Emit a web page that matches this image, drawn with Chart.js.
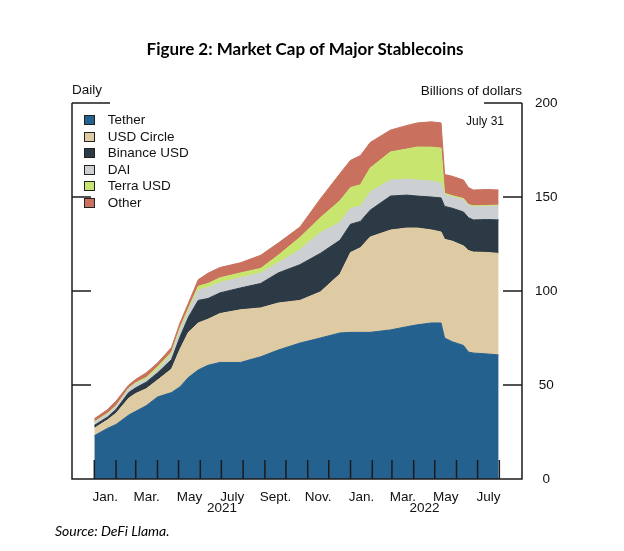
<!DOCTYPE html>
<html>
<head>
<meta charset="utf-8">
<title>Market Cap of Major Stablecoins</title>
<script src="https://cdn.jsdelivr.net/npm/chart.js@4.4.1/dist/chart.umd.min.js"></script>
<style>
  html, body { margin: 0; padding: 0; background: #fff; }
  #wrap { position: relative; width: 624px; height: 551px; overflow: hidden;
          font-family: "Liberation Sans", Arial, sans-serif; color: #111; }
  #chart { position: absolute; left: 0; top: 0; }
  .txt { position: absolute; white-space: nowrap; line-height: 1; }
  #title { left: 0; width: 610px; top: 40px; text-align: center;
           font-family: Lato, "Open Sans", sans-serif; font-weight: bold; font-size: 17px; color: #000; }
  #daily { left: 72px; top: 83px; font-size: 13.5px; }
  #units { right: 102px; top: 84px; font-size: 13.5px; }
  #date  { left: 466px; top: 115px; font-size: 12px; }
  #source { left: 55px; top: 524px; font-family: Lato, "Open Sans", sans-serif;
            font-style: italic; font-size: 14px; color: #000; }
  #legend { position: absolute; left: 84px; top: 112px; margin: 0; padding: 0; list-style: none; }
  #legend li { height: 16.5px; font-size: 13.5px; line-height: 16.5px; white-space: nowrap; }
  #legend span { display: inline-block; width: 9px; height: 8px; border: 1px solid #222;
                 margin-right: 12.7px; vertical-align: -1px; }
</style>
</head>
<body>
<div id="wrap">
  <canvas id="chart" width="624" height="551"></canvas>
  <div class="txt" id="title">Figure 2: Market Cap of Major Stablecoins</div>
  <div class="txt" id="daily">Daily</div>
  <div class="txt" id="units">Billions of dollars</div>
  <div class="txt" id="date">July 31</div>
  <ul id="legend"></ul>
  <div class="txt" id="source">Source: DeFi Llama.</div>
</div>
<script>
// days since Jan. 1, 2021
const days = [0, 19, 31, 49, 59, 74, 90, 110, 122, 134,
  148, 162, 179, 208, 237, 262, 293, 322, 350, 365,
  379, 393, 422, 445, 460, 480, 494, 499, 510, 526,
  533, 540, 560, 576];

// billions of dollars
const tether = [23, 27, 29, 34, 36, 39, 43.6, 46, 49, 54,
  58, 60.5, 62, 62, 65, 68.6, 72.3, 75, 77.7, 78,
  78, 78, 79.3, 81, 82, 83, 83, 75, 73, 71,
  67.5, 67, 66.5, 66];
const usdCircle = [4, 4.5, 6, 9, 9.5, 9, 9, 12.5, 20, 24,
  25, 24.5, 26, 28, 26, 25, 22.7, 24.5, 31.3, 42.5,
  45, 50.7, 53.1, 52.5, 51.5, 49.5, 48.4, 52.5, 53.5, 53,
  54, 53.7, 54, 54];
const binanceUsd = [1.5, 1.5, 2, 3, 3, 3.5, 3.8, 5, 6.5, 8,
  12, 11, 11, 11.6, 13, 16, 19, 20.5, 18, 15,
  14, 14.3, 18.1, 17.5, 17, 17.5, 18.1, 17.5, 17.5, 18,
  17.5, 17.1, 17.5, 17.8];
const dai = [1.5, 1.5, 1.5, 1.9, 2, 1.5, 1.6, 2.8, 3.5, 3.5,
  5.5, 5.8, 5.5, 5.4, 5.6, 5.4, 8, 11, 9.5, 8.5,
  8, 9.7, 8.5, 8.5, 8.5, 8.5, 7.9, 6, 6, 6.5,
  6.5, 6.9, 7, 7.4];
const terraUsd = [0.4, 0.5, 0.5, 0.5, 0.7, 1, 1.6, 1.2, 1.5, 1.2,
  2, 2.2, 2.5, 2.6, 2.4, 4, 6.5, 8, 11.5, 11,
  11.5, 12.7, 15, 16, 17.6, 18, 18.6, 1, 0.7, 0.7,
  0.5, 0.6, 0.5, 0.5];
const other = [1.6, 2, 2.5, 1.6, 1.8, 2.5, 2.1, 2.5, 2.5, 2.8,
  3.5, 5.5, 5.5, 5.4, 7, 6.5, 5.5, 10, 14.5, 14.5,
  15.5, 13.6, 11.6, 12.5, 12.8, 13.5, 13.4, 10, 10.3, 9.8,
  9, 8.4, 8.5, 8];

const seriesNames = ['Tether', 'USD Circle', 'Binance USD', 'DAI', 'Terra USD', 'Other'];
const seriesValues = [tether, usdCircle, binanceUsd, dai, terraUsd, other];
const seriesColors = ['#25618f', '#dfcba3', '#2c3a46', '#cdd0d2', '#c8e570', '#c9705f'];

// axis labels
const monthLabels = ['Jan.', 'Mar.', 'May', 'July', 'Sept.', 'Nov.', 'Jan.', 'Mar.', 'May', 'July'];
const monthLabelDays = [15.5, 74.5, 135.5, 196.5, 258, 319, 380.5, 439.5, 500.5, 561.5];
const yearLabels = ['2021', '2022'];
const yearLabelDays = [182, 470.4];
const monthStartDays = [0, 31, 59, 90, 120, 151, 181, 212, 243, 273, 304, 334,
  365, 396, 424, 455, 485, 516, 546, 577];
const yTicks = [0, 50, 100, 150, 200];

const xTicks = monthLabelDays.map((d, i) => ({ value: d, label: monthLabels[i] }))
  .concat(yearLabelDays.map((d, i) => ({ value: d, label: ['', yearLabels[i]] })))
  .sort((a, b) => a.value - b.value);

const datasets = seriesNames.map((name, i) => ({
  label: name,
  data: days.map((d, j) => ({ x: d, y: seriesValues[i][j] })),
  backgroundColor: seriesColors[i],
  borderColor: seriesColors[i],
  borderWidth: 1,
  pointRadius: 0,
  tension: 0,
  fill: i === 0 ? 'origin' : '-1'
}));

// frame, short value ticks and monthly marks drawn inside the plot
const framePlugin = {
  id: 'frame',
  afterDatasetsDraw(chart) {
    const { ctx, chartArea: a, scales: { x, y } } = chart;
    ctx.save();
    ctx.strokeStyle = '#1b1b1b';
    ctx.lineWidth = 1.5;
    ctx.beginPath();
    const top = y.getPixelForValue(200);
    ctx.moveTo(a.left, top);
    ctx.lineTo(a.left, a.bottom);
    ctx.lineTo(a.right, a.bottom);
    ctx.lineTo(a.right, top);
    yTicks.slice(1).forEach(v => {
      const py = y.getPixelForValue(v);
      const len = v === 200 ? 38 : 19;
      ctx.moveTo(a.left, py); ctx.lineTo(a.left + len, py);
      ctx.moveTo(a.right, py); ctx.lineTo(a.right - len, py);
    });
    monthStartDays.forEach(d => {
      const px = x.getPixelForValue(d);
      ctx.moveTo(px, a.bottom); ctx.lineTo(px, a.bottom - 19);
    });
    ctx.stroke();
    ctx.restore();
  }
};

const tickFont = { family: '"Liberation Sans", Arial, sans-serif', size: 13.5 };

new Chart(document.getElementById('chart'), {
  type: 'line',
  data: { datasets: datasets },
  plugins: [framePlugin],
  options: {
    responsive: false,
    animation: false,
    layout: { padding: { left: 72, top: 103, right: 0, bottom: 0 } },
    plugins: { legend: { display: false }, tooltip: { enabled: false }, title: { display: false } },
    scales: {
      x: {
        type: 'linear',
        min: -31.8,
        max: 609.3,
        grid: { display: false, drawTicks: false },
        border: { display: false },
        afterBuildTicks: s => { s.ticks = xTicks.map(t => ({ value: t.value })); },
        afterFit: s => { s.height = 72; },
        ticks: {
          autoSkip: false,
          maxRotation: 0,
          minRotation: 0,
          padding: 12.5,
          color: '#111',
          font: { family: tickFont.family, size: 13.5, lineHeight: '11px' },
          callback: (v, i) => xTicks[i].label
        }
      },
      y: {
        position: 'right',
        stacked: true,
        min: 0,
        max: 200,
        grid: { display: false, drawTicks: false },
        border: { display: false },
        afterBuildTicks: s => { s.ticks = yTicks.map(v => ({ value: v })); },
        afterFit: s => { s.width = 102; },
        ticks: { padding: 13, crossAlign: 'center', color: '#111', font: tickFont }
      }
    }
  }
});

// legend from the series
const legend = document.getElementById('legend');
seriesNames.forEach((name, i) => {
  const li = document.createElement('li');
  const box = document.createElement('span');
  box.style.background = seriesColors[i];
  li.appendChild(box);
  li.appendChild(document.createTextNode(name));
  legend.appendChild(li);
});
</script>
</body>
</html>
